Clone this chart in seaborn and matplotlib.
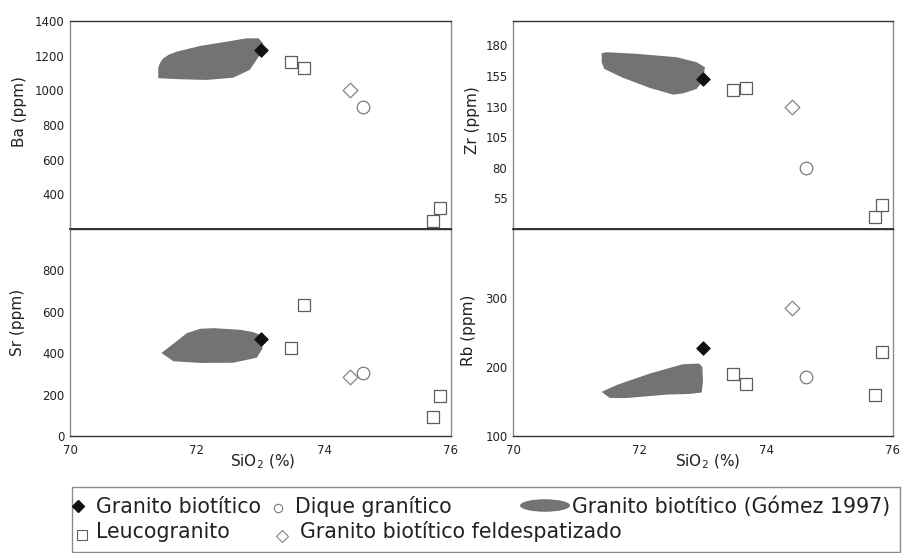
import numpy as np
import pandas as pd
import matplotlib
matplotlib.use("Agg")
import matplotlib.pyplot as plt
import seaborn as sns
from matplotlib.patches import Ellipse, Rectangle

# ---------------- data ----------------
tipos = ["Granito biotítico", "Leucogranito", "Dique granítico",
         "Granito biotítico feldespatizado"]

granito_sio2 = [73.0]
leuco_sio2 = [73.48, 73.68, 75.71, 75.83]
dique_sio2 = [74.62]
feld_sio2 = [74.41]

ba_granito = [1230]
ba_leuco = [1162, 1127, 244, 321]
ba_dique = [906]
ba_feld = [1001]

zr_granito = [153]
zr_leuco = [144, 145, 40, 50]
zr_dique = [80]
zr_feld = [130]

sr_granito = [470]
sr_leuco = [425, 633, 90, 194]
sr_dique = [302]
sr_feld = [285]

rb_granito = [228]
rb_leuco = [190, 175, 159, 222]
rb_dique = [185]
rb_feld = [286]

# Granito biotítico (Gómez 1997) field outlines
ba_field_x = [71.39, 71.39, 71.42, 71.47, 71.56, 71.68, 72.05, 72.47, 72.78, 72.97, 73.04, 72.99, 72.83, 72.57, 72.15, 71.73]
ba_field_y = [1070, 1130, 1160, 1185, 1206, 1223, 1256, 1281, 1300, 1300, 1271, 1204, 1118, 1073, 1060, 1064]
zr_field_x = [71.40, 71.48, 71.95, 72.58, 72.90, 73.03, 73.00, 72.90, 72.69, 72.53, 72.16, 71.74, 71.44, 71.40]
zr_field_y = [173.7, 174.5, 173.2, 170.4, 166.3, 162.2, 151.3, 144.5, 140.9, 139.8, 145.3, 153.5, 160.9, 166.3]
sr_field_x = [71.44, 71.63, 71.84, 72.05, 72.26, 72.68, 72.88, 73.02, 73.03, 72.94, 72.57, 72.05, 71.63]
sr_field_y = [401, 446, 497, 518, 521, 513, 502, 486, 422, 378, 354, 353, 361]
rb_field_x = [71.40, 71.53, 71.79, 72.43, 72.79, 72.98, 73.00, 72.99, 72.94, 72.68, 72.16, 71.64]
rb_field_y = [164, 155, 155, 160, 161, 163, 179, 200, 205, 204, 190.5, 174]

x_ticks = [70, 72, 74, 76]
ba_ticks = [200, 400, 600, 800, 1000, 1200, 1400]
ba_ticklabels = ["", "400", "600", "800", "1000", "1200", "1400"]
zr_ticks = [55, 80, 105, 130, 155, 180]
zr_ticklabels = ["55", "80", "105", "130", "155", "180"]
sr_ticks = [0, 200, 400, 600, 800, 1000]
sr_ticklabels = ["0", "200", "400", "600", "800", ""]
rb_ticks = [100, 200, 300, 400]
rb_ticklabels = ["100", "200", "300", ""]

# ---------------- style ----------------
sns.set_style("white")
plt.rcParams["font.family"] = ["DejaVu Sans"]
plt.rcParams["mathtext.fontset"] = "dejavusans"
TXT = "#222222"

fig = plt.figure(figsize=(9.02, 5.53), dpi=100)

W, H = 902.0, 553.0
def rect(l, t, r, b):
    return [l / W, 1 - b / H, (r - l) / W, (b - t) / H]

panels = [
    dict(pos=rect(70, 21, 451, 229), name="Ba (ppm)", ylim=(200, 1400),
         ticks=ba_ticks, tl=ba_ticklabels,
         vals=(ba_granito, ba_leuco, ba_dique, ba_feld),
         fx=ba_field_x, fy=ba_field_y, bottom=False, lab=(-0.133, 0.5625)),
    dict(pos=rect(513, 21, 893, 229), name="Zr (ppm)", ylim=(30, 200),
         ticks=zr_ticks, tl=zr_ticklabels,
         vals=(zr_granito, zr_leuco, zr_dique, zr_feld),
         fx=zr_field_x, fy=zr_field_y, bottom=False, lab=(-0.106, 0.524)),
    dict(pos=rect(70, 229, 451, 436), name="Sr (ppm)", ylim=(0, 1000),
         ticks=sr_ticks, tl=sr_ticklabels,
         vals=(sr_granito, sr_leuco, sr_dique, sr_feld),
         fx=sr_field_x, fy=sr_field_y, bottom=True, lab=(-0.138, 0.547),
         xlab=(0.5066, -0.1256)),
    dict(pos=rect(513, 229, 893, 436), name="Rb (ppm)", ylim=(100, 400),
         ticks=rb_ticks, tl=rb_ticklabels,
         vals=(rb_granito, rb_leuco, rb_dique, rb_feld),
         fx=rb_field_x, fy=rb_field_y, bottom=True, lab=(-0.116, 0.512),
         xlab=(0.513, -0.1256)),
]

sio2_sets = (granito_sio2, leuco_sio2, dique_sio2, feld_sio2)
styles = {
    "Granito biotítico": dict(marker="D", s=46, color="#111111", edgecolor="#111111", linewidth=0.8),
    "Leucogranito": dict(marker="s", s=85, color="white", edgecolor="#5e5e5e", linewidth=0.9),
    "Dique granítico": dict(marker="o", s=82, color="white", edgecolor="#7a7a7a", linewidth=0.9),
    "Granito biotítico feldespatizado": dict(marker="D", s=56, color="white", edgecolor="#858585", linewidth=0.9),
}

for p in panels:
    ax = fig.add_axes(p["pos"])
    rows = []
    for t, xs, ys in zip(tipos, sio2_sets, p["vals"]):
        for xv, yv in zip(xs, ys):
            rows.append({"SiO2": xv, "valor": yv, "tipo": t})
    df = pd.DataFrame(rows)
    ax.fill(p["fx"], p["fy"], color="#737373", lw=0, zorder=1)
    for t in tipos:
        sub = df[df["tipo"] == t]
        sns.scatterplot(data=sub, x="SiO2", y="valor", ax=ax, legend=False,
                        zorder=3, **styles[t])
    ax.set_xlim(70, 76)
    ax.set_ylim(*p["ylim"])
    ax.set_xticks(x_ticks)
    ax.set_yticks(p["ticks"])
    ax.set_yticklabels(p["tl"])
    ax.tick_params(axis="both", which="major", direction="out", length=2.5,
                   width=0.8, color="#777777", labelsize=8.5, labelcolor=TXT, pad=1.5)
    if p["bottom"]:
        ax.set_xticklabels([str(v) for v in x_ticks])
        ax.tick_params(axis="x", pad=3)
        ax.set_xlabel("SiO$_2$ (%)", fontsize=11, color=TXT)
        ax.xaxis.set_label_coords(*p["xlab"])
        ax.xaxis.label.set_verticalalignment("center")
    else:
        ax.set_xticklabels([])
        ax.set_xlabel("")
    ax.set_ylabel(p["name"], fontsize=11, color=TXT)
    ax.yaxis.set_label_coords(*p["lab"])
    ax.yaxis.label.set_verticalalignment("center")
    for side in ("left", "right"):
        ax.spines[side].set_color("#8a8a8a")
        ax.spines[side].set_linewidth(1.0)
    for side in ("top", "bottom"):
        ax.spines[side].set_color("#333333")
        ax.spines[side].set_linewidth(1.0)
    if not p["bottom"]:
        ax.spines["bottom"].set_linewidth(1.3)
        ax.spines["bottom"].set_color("#222222")
        ax.spines["bottom"].set_zorder(5)

# ---------------- legend (drawn in pixel coordinates) ----------------
lax = fig.add_axes([0, 0, 1, 1], zorder=-1)
lax.set_xlim(0, W)
lax.set_ylim(H, 0)
lax.axis("off")
lax.patch.set_alpha(0)

lax.add_patch(Rectangle((72, 487), 828, 64.5, fill=False, edgecolor="#8a8a8a", lw=1.0))
FS = 14.8
lax.plot([78], [505.5], marker="D", ms=6.0, color="#111111", mec="#111111")
lax.text(96, 513, tipos[0], fontsize=FS, color=TXT, va="baseline", ha="left")
lax.plot([278], [508], marker="o", ms=6.0, mfc="white", mec="#7a7a7a", mew=0.8)
lax.text(295, 513, tipos[2], fontsize=FS, color=TXT, va="baseline", ha="left")
lax.add_patch(Ellipse((545, 505.5), 50, 12.5, color="#737373", lw=0))
lax.text(572, 513, "Granito biotítico (Gómez 1997)", fontsize=FS, color=TXT,
         va="baseline", ha="left")
lax.plot([81.5], [535], marker="s", ms=6.5, mfc="white", mec="#5e5e5e", mew=0.8)
lax.text(96, 538, tipos[1], fontsize=FS, color=TXT, va="baseline", ha="left")
lax.plot([282], [536], marker="D", ms=6.0, mfc="white", mec="#858585", mew=0.8)
lax.text(300, 538, tipos[3], fontsize=FS, color=TXT, va="baseline", ha="left")

fig.savefig("out.png", dpi=100)
